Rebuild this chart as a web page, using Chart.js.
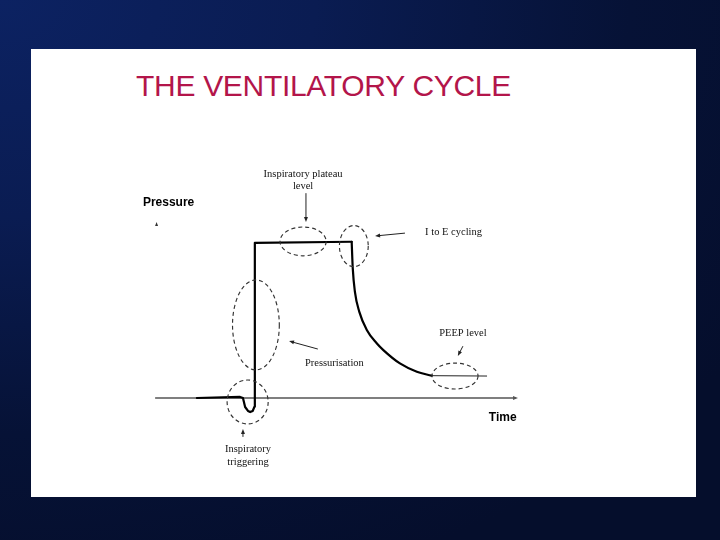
<!DOCTYPE html>
<html>
<head>
<meta charset="utf-8">
<script src="https://cdn.jsdelivr.net/npm/chart.js@4/dist/chart.umd.min.js"></script>
<style>
  html, body { margin:0; padding:0; }
  body { width:720px; height:540px; overflow:hidden; position:relative;
    background: radial-gradient(ellipse 900px 620px at 0% 0%, #0c2262 0%, #0a1c52 35%, #061236 70%, #050e2c 100%); }
  #panel { position:absolute; left:31px; top:49px; width:665px; height:448px; background:#fff; }
  #title { position:absolute; left:136px; top:71px; font-family:"Liberation Sans", Arial, sans-serif;
    font-size:30px; line-height:30px; color:#b3154a; letter-spacing:-0.3px; white-space:nowrap; }
  #c { position:absolute; left:0; top:0; }
</style>
</head>
<body>
<div id="panel"></div>
<div id="title">THE VENTILATORY CYCLE</div>
<canvas id="c" width="720" height="540"></canvas>
<script>
// ---- data (time units, pressure units) ----
const inspTime     = [10.8, 22.8, 23.6, 24.2, 25.0, 25.6, 26.3, 26.8, 26.9, 26.9, 53.8];
const inspPressure = [0,    0.3,  0,   -2.5, -3.6, -3.9, -3.6, -2.4, -1.1, 43.1, 43.4];
const expTime      = [53.8, 54.1, 54.7, 55.9, 58.0, 60.75, 62.6, 67.2, 71.9, 76.0];
const expPressure  = [43.4, 36.0, 29.5, 24.0, 18.9, 15.2,  13.3, 9.6,  7.3,  6.2];
const peepTime     = [76.0, 91.4];
const peepPressure = [6.2,  6.1];

// dashed ellipses: centre and radii in data units
const ellipseNames = ["plateau", "cycling", "pressurisation", "triggering", "peep"];
const ellipseX  = [40.3, 54.4, 27.2, 24.9, 82.5];
const ellipseY  = [43.5, 42.2, 20.3, -1.1, 6.1];
const ellipseRX = [6.4,  4.0,  6.5,  5.7,  6.4];
const ellipseRY = [4.0,  5.7,  12.5, 6.1,  3.6];

// annotation labels
const labelText  = ["Inspiratory plateau", "level", "I to E cycling", "Pressurisation", "Inspiratory", "triggering", "PEEP level"];
const labelX     = [40.3, 40.3, 74.2, 40.8, 25.0, 25.0, 84.7];
const labelY     = [62.2, 58.9, 46.1, 9.7, -14.2, -17.8, 18.1];
const labelAlign = ["center", "center", "left", "left", "center", "center", "center"];

// annotation arrows (from -> to)
const arrowX1 = [41.1, 68.6, 44.4, 23.6, 84.7];
const arrowY1 = [56.9, 45.8, 13.6, -10.8, 14.4];
const arrowX2 = [41.1, 60.3, 36.4, 23.6, 83.3];
const arrowY2 = [48.9, 45.0, 15.8, -8.6, 11.7];

// axis titles
const axisTitleText = ["Pressure", "Time"];
const axisTitleX = [-4.2, 91.9];
const axisTitleY = [54.2, -5.6];

const toPts = (xs, ys) => xs.map((x, i) => ({x, y: ys[i]}));

function arrowHead(ctx, x1, y1, x2, y2, size, width) {
  const a = Math.atan2(y2 - y1, x2 - x1);
  ctx.beginPath();
  ctx.moveTo(x2, y2);
  ctx.lineTo(x2 - size * Math.cos(a) + width * Math.sin(a), y2 - size * Math.sin(a) - width * Math.cos(a));
  ctx.lineTo(x2 - size * Math.cos(a) - width * Math.sin(a), y2 - size * Math.sin(a) + width * Math.cos(a));
  ctx.closePath();
  ctx.fill();
}

const diagram = {
  id: 'diagram',
  beforeDatasetsDraw(chart) {
    const {ctx, scales: {x, y}} = chart;
    ctx.save();
    // time axis
    const y0 = y.getPixelForValue(0);
    const xs = x.getPixelForValue(-0.8), xe = x.getPixelForValue(100);
    ctx.strokeStyle = '#555'; ctx.fillStyle = '#555'; ctx.lineWidth = 1.4;
    ctx.beginPath(); ctx.moveTo(xs, y0); ctx.lineTo(xe - 2, y0); ctx.stroke();
    arrowHead(ctx, xs, y0, xe, y0, 5, 2);
    // pressure axis tip
    const px = x.getPixelForValue(-0.4), pt = y.getPixelForValue(48.9);
    ctx.fillStyle = '#333';
    arrowHead(ctx, px, pt + 5, px, pt, 4, 1.5);
    ctx.restore();
  },
  afterDatasetsDraw(chart) {
    const {ctx, scales: {x, y}} = chart;
    ctx.save();
    // ellipses
    ctx.strokeStyle = '#333'; ctx.lineWidth = 1.15; ctx.setLineDash([4, 3]);
    ellipseNames.forEach((n, i) => {
      const cx = x.getPixelForValue(ellipseX[i]), cy = y.getPixelForValue(ellipseY[i]);
      const rx = Math.abs(x.getPixelForValue(ellipseX[i] + ellipseRX[i]) - cx);
      const ry = Math.abs(y.getPixelForValue(ellipseY[i] + ellipseRY[i]) - cy);
      ctx.beginPath(); ctx.ellipse(cx, cy, rx, ry, 0, 0, Math.PI * 2); ctx.stroke();
    });
    ctx.setLineDash([]);
    // arrows
    ctx.strokeStyle = '#222'; ctx.fillStyle = '#222'; ctx.lineWidth = 1;
    arrowX1.forEach((v, i) => {
      const x1 = x.getPixelForValue(arrowX1[i]), y1 = y.getPixelForValue(arrowY1[i]);
      const x2 = x.getPixelForValue(arrowX2[i]), y2 = y.getPixelForValue(arrowY2[i]);
      const a = Math.atan2(y2 - y1, x2 - x1);
      ctx.beginPath(); ctx.moveTo(x1, y1); ctx.lineTo(x2 - 4 * Math.cos(a), y2 - 4 * Math.sin(a)); ctx.stroke();
      arrowHead(ctx, x1, y1, x2, y2, 5, 2);
    });
    // labels
    ctx.fillStyle = '#111'; ctx.textBaseline = 'middle';
    ctx.font = '10.5px "Liberation Serif", "Times New Roman", serif';
    labelText.forEach((t, i) => {
      ctx.textAlign = labelAlign[i];
      ctx.fillText(t, x.getPixelForValue(labelX[i]), y.getPixelForValue(labelY[i]));
    });
    ctx.fillStyle = '#000'; ctx.textAlign = 'left';
    ctx.font = 'bold 12px "Liberation Sans", Arial, sans-serif';
    axisTitleText.forEach((t, i) => {
      ctx.fillText(t, x.getPixelForValue(axisTitleX[i]), y.getPixelForValue(axisTitleY[i]));
    });
    ctx.restore();
  }
};

new Chart(document.getElementById('c'), {
  type: 'scatter',
  data: {
    datasets: [
      { data: toPts(inspTime, inspPressure), showLine: true, borderColor: '#000', borderWidth: 2.2,
        pointRadius: 0, tension: 0, borderJoinStyle: 'round', borderCapStyle: 'round' },
      { data: toPts(expTime, expPressure), showLine: true, borderColor: '#000', borderWidth: 2.2,
        pointRadius: 0, cubicInterpolationMode: 'monotone', borderCapStyle: 'round' },
      { data: toPts(peepTime, peepPressure), showLine: true, borderColor: '#222', borderWidth: 1,
        pointRadius: 0, tension: 0 }
    ]
  },
  options: {
    responsive: false, animation: false,
    layout: { padding: { left: 158, right: 202, top: 218, bottom: 106 } },
    scales: {
      x: { type: 'linear', min: 0, max: 100, display: false },
      y: { type: 'linear', min: -10, max: 50, display: false }
    },
    plugins: { legend: { display: false }, tooltip: { enabled: false }, title: { display: false } },
    clip: false
  },
  plugins: [diagram]
});
</script>
</body>
</html>
